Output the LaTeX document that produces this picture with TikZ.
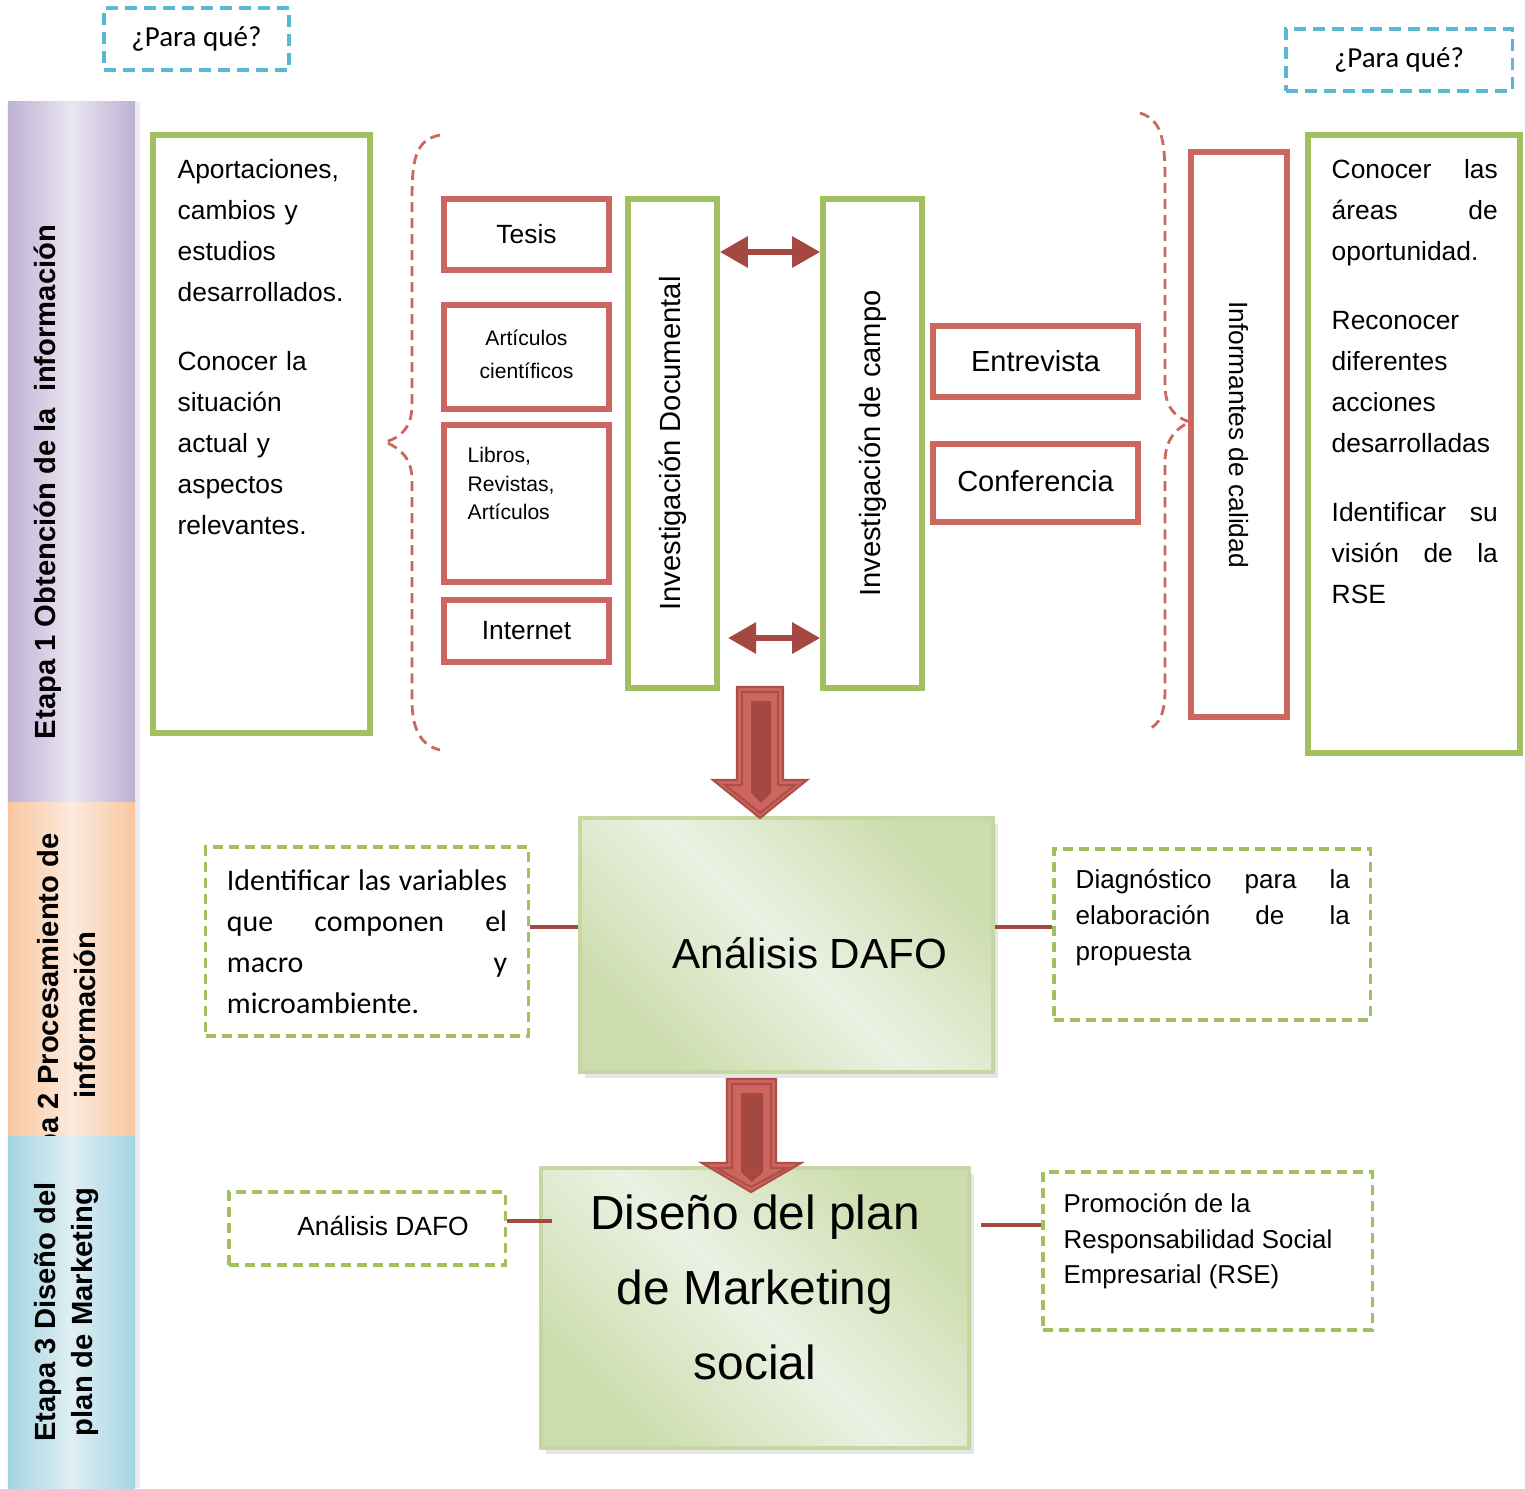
\documentclass[tikz,border=0pt]{standalone}
\usepackage{fontspec}
\setmainfont{Liberation Sans}
\newfontfamily\calibri{Carlito}
\usetikzlibrary{arrows.meta,shadows}

\definecolor{rojo}{RGB}{206,102,96}
\definecolor{rojoosc}{RGB}{166,72,66}
\definecolor{verde}{RGB}{160,192,98}
\definecolor{azul}{RGB}{90,185,208}
\definecolor{lila}{RGB}{190,177,211}
\definecolor{lilaC}{RGB}{234,230,242}
\definecolor{naranja}{RGB}{249,199,158}
\definecolor{naranjaC}{RGB}{252,234,222}
\definecolor{celeste}{RGB}{163,212,225}
\definecolor{celesteC}{RGB}{224,239,244}
\definecolor{pasto}{RGB}{204,220,172}
\definecolor{pastoC}{RGB}{235,241,227}

\begin{document}
\begin{tikzpicture}[x=0.01cm,y=-0.01cm,
  etapa/.style={minimum width=1.27cm,inner sep=0pt,
    drop shadow={shadow xshift=0.05cm,shadow yshift=0cm,opacity=0.15}},
  etapatxt/.style={rotate=90,align=center,font=\bfseries\fontsize{8.3}{10.5}\selectfont},
  para/.style={draw=azul,dash pattern=on 0.12cm off 0.07cm,line width=0.9pt,
    minimum height=0.62cm,font=\calibri\fontsize{8.25}{10}\selectfont},
  caja/.style={draw=verde,line width=1.6pt,inner sep=0pt},
  fuente/.style={draw=rojo,line width=1.6pt,minimum width=1.65cm,inner sep=0pt},
  punteo/.style={draw=verde,dash pattern=on 0.1cm off 0.06cm,line width=0.9pt},
  llave/.style={draw=rojo,dash pattern=on 0.1cm off 0.06cm,line width=0.8pt},
  txt/.style={anchor=north west,inner sep=0pt,align=left},
  bloque/.style={draw=pasto!85!verde,line width=1pt,top color=pasto,bottom color=pasto,
    middle color=pastoC,shading angle=-45,
    drop shadow={shadow xshift=0.05cm,shadow yshift=-0.06cm,opacity=0.2}},
  doble/.style={draw=rojoosc,line width=0.06cm,<->,>={Triangle[width=0.3cm,length=0.28cm]}},
  enlace/.style={draw=rojoosc,line width=0.04cm},
  normal/.style={font=\fontsize{7.5}{11.66}\selectfont}]

   \useasboundingbox (0,0) rectangle (1525,1488);

   % etapas
   \node[etapa,left color=lila,right color=lila,middle color=lilaC,minimum height=7.01cm] (e1) at (71.5,452.5) {};
   \node[etapatxt] (e1t) at (48,482) {Etapa 1 Obtención de la\ \ información};
   \node[etapa,left color=naranja,right color=naranja,middle color=naranjaC,minimum height=3.34cm] (e2) at (71.5,970) {};
   \node[etapatxt] (e2t) at (66.5,1015) {Etapa 2 Procesamiento de\\información};
   \node[etapa,left color=celeste,right color=celeste,middle color=celesteC,minimum height=3.51cm] (e3) at (71.5,1312.5) {};
   \node[etapatxt] (e3t) at (66.5,1312) {Etapa 3 Diseño del\\plan de Marketing};

   \node[para,minimum width=1.85cm] (q1) at (196.5,39) {¿Para qué?};
   \node[para,minimum width=2.26cm] (q2) at (1399,60) {¿Para qué?};

   % etapa 1
   \node[caja,minimum width=2.17cm,minimum height=5.98cm] (apor) at (261.5,434) {};
   \node[txt,normal,text width=1.75cm] (aport) at (177,159) {Aportaciones,\\cambios y\\estudios\\desarrollados.\\[7.8pt]Conocer la\\situación\\actual y\\aspectos\\relevantes.};

   \draw[llave] (440,135) .. controls (415,140) and (412,160) .. (412,200) -- (412,405) .. controls (412,428) and (400,438) .. (385,442) .. controls (400,448) and (412,458) .. (412,480) -- (412,700) .. controls (412,728) and (420,745) .. (440,750);

   \node[fuente,minimum height=0.71cm,normal] (tesis) at (526.5,234.5) {Tesis};
   \node[fuente,minimum height=1.04cm,align=center,font=\fontsize{6}{9.4}\selectfont] (artic) at (526.5,357) {\raisebox{0.06cm}{Artículos}\\\raisebox{0.06cm}{científicos}};
   \node[fuente,minimum height=1.57cm] (libros) at (526.5,503.5) {};
   \node[txt,font=\fontsize{6}{8.1}\selectfont] (librost) at (467,447) {Libros,\\Revistas,\\Artículos};
   \node[fuente,minimum height=0.62cm,normal] (inter) at (526.5,631) {Internet};

   \node[caja,rotate=90,minimum width=4.89cm,minimum height=0.89cm,font=\fontsize{8.3}{10}\selectfont] (docu) at (672.5,443.5) {Investigación Documental};
   \node[caja,rotate=90,minimum width=4.89cm,minimum height=0.99cm,font=\fontsize{8.3}{10}\selectfont] (campo) at (872.5,443.5) {Investigación de campo};

   \draw[doble] (docu.south |- 0,252) -- (campo.north |- 0,252);
   \draw[doble] (728,638) -- (campo.north |- 0,638);

   \node[fuente,minimum width=2.05cm,minimum height=0.71cm,font=\fontsize{8.25}{10}\selectfont] (entre) at (1035.5,361.5) {Entrevista};
   \node[fuente,minimum width=2.05cm,minimum height=0.78cm,font=\fontsize{8.25}{10}\selectfont] (confe) at (1035.5,483) {\raisebox{0.04cm}{Conferencia}};

   \draw[llave] (1140,113) .. controls (1162,120) and (1165,140) .. (1165,180) -- (1165,385) .. controls (1165,408) and (1176,418) .. (1190,422) .. controls (1176,428) and (1165,440) .. (1165,462) -- (1165,690) .. controls (1165,712) and (1160,725) .. (1147,730);

   \node[fuente,rotate=-90,minimum width=5.65cm,minimum height=0.96cm,normal] (infor) at (1239,434.5) {Informantes de calidad};

   \node[caja,minimum width=2.12cm,minimum height=6.18cm] (obj) at (1414,444) {};
   \node[txt,normal,text width=1.66cm] (objt) at (1331,159) {Conocer\hfill las\\áreas\hfill de\\oportunidad.\\[7.8pt]Reconocer\\diferentes\\acciones\\desarrolladas\\[8pt]Identificar\hfill su\\visión\hfill de\hfill la\\RSE};

   % etapa 2
   \node[bloque,minimum width=4.13cm,minimum height=2.54cm] (dafo) at (786.5,945) {};
   \node[font=\fontsize{12}{14}\selectfont] (dafot) at (810,953) {Análisis DAFO};

   \node[punteo,minimum width=3.22cm,minimum height=1.89cm,text width=2.8cm,inner xsep=0.21cm,align=left,font=\calibri\fontsize{8.5}{11.66}\selectfont] (vari) at (367,941.5) {Identificar\hfill las\hfill variables\\que\hfill componen\hfill el\\macro\hfill y\\microambiente.};

   \node[punteo,minimum width=3.16cm,minimum height=1.71cm] (diag) at (1212,934.5) {};
   \node[txt,text width=2.74cm,font=\fontsize{7.4}{10.2}\selectfont] (diagt) at (1075,869) {Diagnóstico\hfill para\hfill la\\elaboración\hfill de\hfill la\\propuesta};

   \draw[enlace] (vari.east |- 0,927) -- (dafo.west |- 0,927);
   \draw[enlace] (dafo.east |- 0,927) -- (diag.west |- 0,927);

   % etapa 3
   \node[bloque,minimum width=4.28cm,minimum height=2.80cm] (dis) at (755,1308) {};
   \node[align=center,font=\fontsize{13.6}{21.3}\selectfont] (dist) at (755,1287) {Diseño del plan\\de Marketing\\social};

   \node[punteo,minimum width=2.76cm,minimum height=0.73cm,normal] (dafo2) at (367,1228.5) {\hspace*{0.32cm}\raisebox{0.05cm}{Análisis DAFO}};
   \node[punteo,minimum width=3.29cm,minimum height=1.58cm] (rse) at (1207.5,1251) {};
   \node[txt,font=\fontsize{7.35}{10.1}\selectfont] (rset) at (1063,1193) {Promoción de la\\Responsabilidad Social\\Empresarial (RSE)};

   \draw[enlace] (dafo2.east |- 0,1221) -- (552,1221);
   \draw[enlace] (981,1225) -- (rse.west |- 0,1225);

   % flechas grandes
   \filldraw[fill=rojo,draw=rojoosc!80!rojo,line width=0.6pt] (737,687) -- (737,780) -- (713,780) -- (760,818) -- (807,780) -- (783,780) -- (783,687) -- cycle;
   \draw[rojoosc!80!rojo,line width=0.6pt] (742,692) -- (742,785) -- (725,785) -- (760,813) -- (795,785) -- (778,785) -- (778,692) -- cycle;
   \fill[rojoosc] (751,701) -- (751,793) -- (761,803) -- (771,793) -- (771,701) -- cycle;

   \filldraw[fill=rojo,draw=rojoosc!80!rojo,line width=0.6pt] (727,1079) -- (727,1163) -- (702,1163) -- (751,1192) -- (801,1163) -- (776,1163) -- (776,1079) -- cycle;
   \draw[rojoosc!80!rojo,line width=0.6pt] (732,1084) -- (732,1168) -- (716,1168) -- (751,1187) -- (787,1168) -- (771,1168) -- (771,1084) -- cycle;
   \fill[rojoosc] (741,1093) -- (741,1172) -- (752,1182) -- (763,1172) -- (763,1093) -- cycle;

\end{tikzpicture}
\end{document}
